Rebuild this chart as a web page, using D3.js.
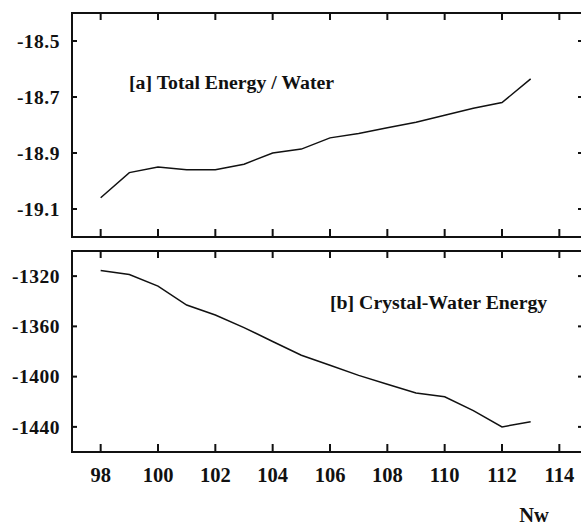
<!DOCTYPE html>
<html>
<head>
<meta charset="utf-8">
<script src="https://cdn.jsdelivr.net/npm/d3@7"></script>
<style>
  body { margin: 0; background: #fff; }
</style>
</head>
<body>
<div id="chart"></div>
<script>
const nw = [98, 99, 100, 101, 102, 103, 104, 105, 106, 107, 108, 109, 110, 111, 112, 113];
const totalEnergy = [-19.06, -18.97, -18.95, -18.96, -18.96, -18.94, -18.90, -18.886, -18.846, -18.83, -18.81, -18.79, -18.765, -18.74, -18.72, -18.635];
const crystalWater = [-1315.5, -1318.7, -1328, -1343, -1351, -1361, -1372, -1383, -1391, -1399, -1406, -1413, -1416, -1427, -1440, -1436];
const xTicks = [98, 100, 102, 104, 106, 108, 110, 112, 114];
const yTicksA = [-18.5, -18.7, -18.9, -19.1];
const yTicksB = [-1320, -1360, -1400, -1440];

const width = 581, height = 525;
const left = 72, right = 588;
const serif = "'Liberation Serif', 'Times New Roman', serif";

const svg = d3.select("#chart").append("svg")
  .attr("width", width)
  .attr("height", height);

const x = d3.scaleLinear().domain([97, 115]).range([left, right]);

// hyphen minus like the original
const hy = f => v => f(v).replace("\u2212", "-");

function label(sel) {
  return sel.attr("font-family", serif)
    .attr("font-weight", "bold")
    .attr("fill", "#111");
}

const panels = [
  { top: 13, bottom: 237, domain: [-19.2, -18.4], ticks: yTicksA, fmt: hy(d3.format(".1f")), values: totalEnergy,
    label: "[a] Total Energy / Water", lx: 129, ly: 89 },
  { top: 251, bottom: 452, domain: [-1460, -1300], ticks: yTicksB, fmt: hy(d3.format("d")), values: crystalWater,
    label: "[b] Crystal-Water Energy", lx: 330, ly: 309 }
];

panels.forEach(p => {
  const y = d3.scaleLinear().domain(p.domain).range([p.bottom, p.top]);
  const g = svg.append("g");

  // frame
  g.append("rect")
    .attr("x", left).attr("y", p.top)
    .attr("width", right - left).attr("height", p.bottom - p.top)
    .attr("fill", "none").attr("stroke", "#111").attr("stroke-width", 2);

  // x ticks inward on top and bottom
  xTicks.forEach(t => {
    g.append("line").attr("x1", x(t)).attr("x2", x(t))
      .attr("y1", p.top).attr("y2", p.top + 7)
      .attr("stroke", "#111").attr("stroke-width", 2);
    g.append("line").attr("x1", x(t)).attr("x2", x(t))
      .attr("y1", p.bottom).attr("y2", p.bottom - 8)
      .attr("stroke", "#111").attr("stroke-width", 2);
  });

  // y ticks and labels
  p.ticks.forEach(t => {
    g.append("line").attr("x1", left).attr("x2", left + 5)
      .attr("y1", y(t)).attr("y2", y(t))
      .attr("stroke", "#111").attr("stroke-width", 2);
    g.append("line").attr("x1", 578).attr("x2", 581)
      .attr("y1", y(t)).attr("y2", y(t))
      .attr("stroke", "#111").attr("stroke-width", 2);
    g.append("text")
      .attr("x", 60).attr("y", y(t))
      .attr("dy", "0.35em")
      .attr("text-anchor", "end")
      .attr("font-size", 19.5)
      .attr("letter-spacing", 0.5)
      .call(label)
      .text(p.fmt(t));
  });

  // data line
  const line = d3.line()
    .x((d, i) => x(nw[i]))
    .y(d => y(d));
  g.append("path")
    .datum(p.values)
    .attr("d", line)
    .attr("fill", "none")
    .attr("stroke", "#111")
    .attr("stroke-width", 1.5);

  g.append("text")
    .attr("x", p.lx).attr("y", p.ly)
    .attr("font-size", 19.8)
    .call(label)
    .text(p.label);
});

// x tick labels
xTicks.forEach(t => {
  svg.append("text")
    .attr("x", x(t)).attr("y", 482)
    .attr("text-anchor", "middle")
    .attr("font-size", 20.5)
    .call(label)
    .text(t);
});

svg.append("text")
  .attr("x", 534).attr("y", 522)
  .attr("text-anchor", "middle")
  .attr("font-size", 20.5)
  .call(label)
  .text("Nw");
</script>
</body>
</html>
